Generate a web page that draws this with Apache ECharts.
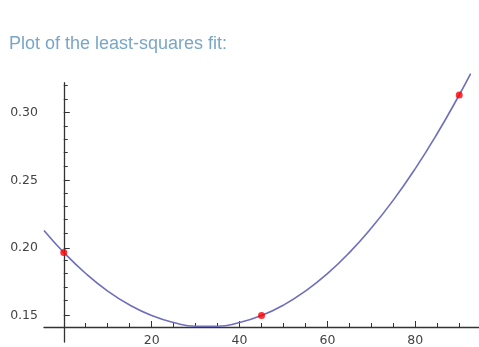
<!DOCTYPE html>
<html>
<head>
<meta charset="utf-8">
<script src="https://cdn.jsdelivr.net/npm/echarts@6/dist/echarts.min.js"></script>
<style>
html,body{margin:0;padding:0;background:#fff;}
#chart{width:479px;height:347px;}
</style>
</head>
<body>
<div id="chart"></div>
<script>
// Fitted curve
var fitX = [-4.5, 0, 5, 10, 15, 20, 25, 30, 35, 40, 45, 50, 55, 60, 65, 70, 75, 80, 85, 90, 92.6];
var fitY = [0.212, 0.1956, 0.1799, 0.1668, 0.1564, 0.1485, 0.1433, 0.1406, 0.1406, 0.1433, 0.1485, 0.1563, 0.1668, 0.1798, 0.1955, 0.2138, 0.2346, 0.2581, 0.2843, 0.313, 0.3289];
// Data points
var ptX = [0, 45, 90];
var ptY = [0.1956, 0.1485, 0.313];
// Ticks
var xMinorTicks = [5, 10, 15, 25, 30, 35, 45, 50, 55, 65, 70, 75, 85, 90];
var xMajorTicks = [20, 40, 60, 80];
var yMinorTicks = [0.16, 0.17, 0.18, 0.19, 0.21, 0.22, 0.23, 0.24, 0.26, 0.27, 0.28, 0.29, 0.31, 0.32];
var yMajorTicks = [0.15, 0.20, 0.25, 0.30];

var fitData = fitX.map(function (x, i) { return [x, fitY[i]]; });
var ptData = ptX.map(function (x, i) { return [x, ptY[i]]; });

var axisColor = '#333';
var labelStyle = { fontFamily: 'DejaVu Sans', fontSize: 12.5, color: '#444' };

var chart = echarts.init(document.getElementById('chart'));
chart.setOption({
  backgroundColor: '#fff',
  animation: false,
  title: {
    text: 'Plot of the least-squares fit:',
    left: 9, top: 35, padding: 0,
    textStyle: { fontFamily: 'Liberation Sans', fontSize: 18, fontWeight: 'normal', color: '#79a6c8' }
  },
  grid: [
    { left: 44, right: 0, top: 82.7, bottom: 17.8 },
    { left: 44, right: 0, top: 82.7, bottom: 5 }
  ],
  xAxis: [
    { type: 'value', gridIndex: 0, min: -4.5, max: 94.5, position: 'bottom',
      axisLine: { show: true, lineStyle: { color: axisColor, width: 1.3 } },
      axisTick: { show: true, inside: true, length: 4, customValues: xMinorTicks, lineStyle: { color: axisColor, width: 1 } },
      axisLabel: { show: false }, splitLine: { show: false } },
    { type: 'value', gridIndex: 0, min: -4.5, max: 94.5, position: 'bottom',
      axisLine: { show: false },
      axisTick: { show: true, inside: true, length: 6, customValues: xMajorTicks, lineStyle: { color: axisColor, width: 1 } },
      axisLabel: Object.assign({ show: true, margin: 7, customValues: xMajorTicks }, labelStyle),
      splitLine: { show: false } },
    { type: 'value', gridIndex: 1, min: -4.5, max: 94.5, position: 'bottom',
      axisLine: { show: false }, axisTick: { show: false }, axisLabel: { show: false }, splitLine: { show: false } }
  ],
  yAxis: [
    { type: 'value', gridIndex: 0, min: 0.14, max: 0.32217,
      axisLine: { show: false, onZero: true },
      axisTick: { show: true, inside: true, length: 4, customValues: yMinorTicks, lineStyle: { color: axisColor, width: 1 } },
      axisLabel: { show: false }, splitLine: { show: false } },
    { type: 'value', gridIndex: 1, min: 0.13054, max: 0.32217,
      axisLine: { show: true, onZero: true, lineStyle: { color: axisColor, width: 1.3 } },
      axisTick: { show: true, inside: true, length: 6, customValues: yMajorTicks, lineStyle: { color: axisColor, width: 1 } },
      axisLabel: Object.assign({ show: true, margin: 6, customValues: yMajorTicks,
        formatter: function (v) { return v.toFixed(2); } }, labelStyle),
      splitLine: { show: false } }
  ],
  series: [
    { type: 'line', xAxisIndex: 0, yAxisIndex: 0, data: fitData, smooth: true, showSymbol: false,
      clip: false, lineStyle: { color: '#6e6ebd', width: 1.6 }, z: 2 },
    { type: 'scatter', xAxisIndex: 0, yAxisIndex: 0, data: ptData, symbolSize: 7,
      itemStyle: { color: '#ff0000' }, z: 3 }
  ]
});
</script>
</body>
</html>
